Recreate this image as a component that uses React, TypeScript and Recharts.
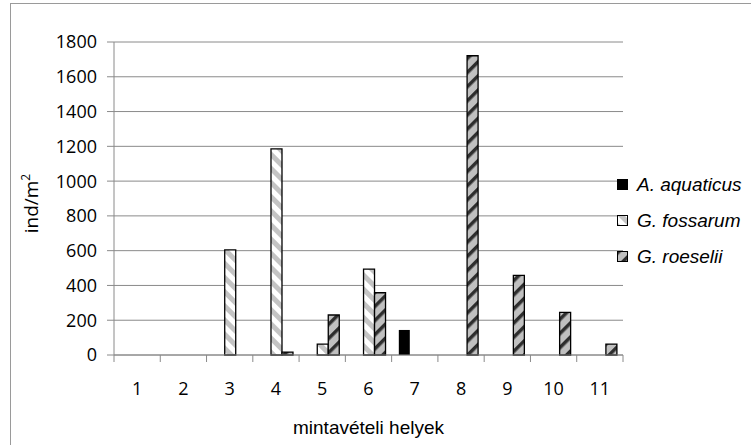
import { BarChart, Bar, XAxis, YAxis, CartesianGrid, Legend, Label } from "recharts";

const sites = ["1", "2", "3", "4", "5", "6", "7", "8", "9", "10", "11"];
const aquaticus = [0, 0, 0, 0, 0, 0, 144, 0, 0, 0, 0];
const fossarum = [0, 0, 604, 1185, 63, 494, 0, 0, 0, 0, 0];
const roeselii = [0, 0, 0, 17, 230, 358, 0, 1721, 458, 245, 63];
const yTicks = [0, 200, 400, 600, 800, 1000, 1200, 1400, 1600, 1800];

const data = sites.map((site, i) => ({
  site,
  aquaticus: aquaticus[i],
  fossarum: fossarum[i],
  roeselii: roeselii[i],
}));

const GRID = "#8a8a8a";
const TICK_FONT = "'Open Sans', sans-serif";
const TEXT_FONT = "'Liberation Sans', Arial, sans-serif";

const renderLegend = (props: any) => (
  <div style={{ marginLeft: -6, fontFamily: TEXT_FONT, fontStyle: "italic", fontSize: 19, color: "#000" }}>
    {props.payload.map((entry: any) => (
      <div key={entry.value} style={{ display: "flex", alignItems: "center", height: 36 }}>
        <svg width={12} height={12} style={{ marginRight: 8 }}>
          <rect x={0.5} y={0.5} width={10} height={10} fill={entry.color} stroke="#000" />
        </svg>
        <span>{entry.value}</span>
      </div>
    ))}
  </div>
);

// category tick: label in the middle, tick marks on the band edges (Excel style)
const SiteTick = (props: any) => {
  const { x, y, payload, index, visibleTicksCount } = props;
  const half = payload && payload.offset ? payload.offset : 0;
  const last = index === visibleTicksCount - 1;
  return (
    <g>
      <line x1={x - half} x2={x - half} y1={y} y2={y + 7} stroke={GRID} />
      {last && <line x1={x + half} x2={x + half} y1={y} y2={y + 7} stroke={GRID} />}
      <text x={x} y={y + 40} textAnchor="middle" fontFamily={TICK_FONT} fontSize={18} fill="#000">
        {payload.value}
      </text>
    </g>
  );
};

const YTitle = (props: any) => {
  const vb = props.viewBox;
  const cx = vb.x + 38;
  const cy = vb.y + vb.height / 2 + 5;
  return (
    <text transform={`translate(${cx},${cy}) rotate(-90)`} textAnchor="middle" fontFamily={TICK_FONT} fontSize={19} fill="#000">
      ind/m<tspan dy={-8} fontSize={12}>2</tspan>
    </text>
  );
};

const XTitle = (props: any) => {
  const vb = props.viewBox;
  return (
    <text x={vb.x + vb.width / 2} y={vb.y + 79} textAnchor="middle" fontFamily={TEXT_FONT} fontSize={19} fill="#000">
      mintavételi helyek
    </text>
  );
};

export default function App() {
  return (
    <div style={{ position: "absolute", left: 0, top: 0, width: 751, height: 445, overflow: "hidden", background: "#fff" }}>
      <svg width={0} height={0} style={{ position: "absolute" }}>
        <defs>
          <pattern id="fosPat" patternUnits="userSpaceOnUse" width={10} height={10} patternTransform="rotate(-45)">
            <rect width={10} height={10} fill="#fff" />
            <rect width={5} height={10} fill="#c4c4c4" />
          </pattern>
          <pattern id="roePat" patternUnits="userSpaceOnUse" width={10} height={10} patternTransform="rotate(45)">
            <rect width={10} height={10} fill="#c0c0c0" />
            <rect width={3.5} height={10} fill="#2e2e2e" />
          </pattern>
        </defs>
      </svg>
      <div style={{ position: "absolute", left: 10, top: 3, width: 800, height: 500, borderLeft: "1px solid #9a9a9a", borderTop: "1px solid #9a9a9a" }} />
      <div style={{ position: "absolute", left: 0, top: 0 }}>
        <BarChart
          width={751}
          height={445}
          data={data}
          margin={{ top: 42, right: 0, bottom: 10, left: 0 }}
          barGap={0}
          barCategoryGap="15.5%"
        >
          <CartesianGrid vertical={false} stroke={GRID} />
          <XAxis
            dataKey="site"
            height={80}
            axisLine={{ stroke: GRID }}
            tickLine={false}
            tickSize={0}
            tickMargin={0}
            interval={0}
            tick={SiteTick}
          >
            <Label content={XTitle} />
          </XAxis>
          <YAxis
            width={114}
            domain={[0, 1800]}
            ticks={yTicks}
            interval={0}
            tickSize={7}
            tickMargin={10}
            axisLine={{ stroke: GRID }}
            tickLine={{ stroke: GRID }}
            tick={{ fontSize: 18, fill: "#000", fontFamily: TICK_FONT }}
          >
            <Label content={YTitle} />
          </YAxis>
          <Legend
            layout="vertical"
            align="right"
            verticalAlign="middle"
            content={renderLegend}
            wrapperStyle={{ width: 128, top: 167 }}
          />
          <Bar dataKey="aquaticus" name="A. aquaticus" fill="#000" isAnimationActive={false} />
          <Bar dataKey="fossarum" name="G. fossarum" fill="url(#fosPat)" stroke="#000" strokeWidth={1.3} isAnimationActive={false} />
          <Bar dataKey="roeselii" name="G. roeselii" fill="url(#roePat)" stroke="#000" strokeWidth={1.3} isAnimationActive={false} />
        </BarChart>
      </div>
    </div>
  );
}
